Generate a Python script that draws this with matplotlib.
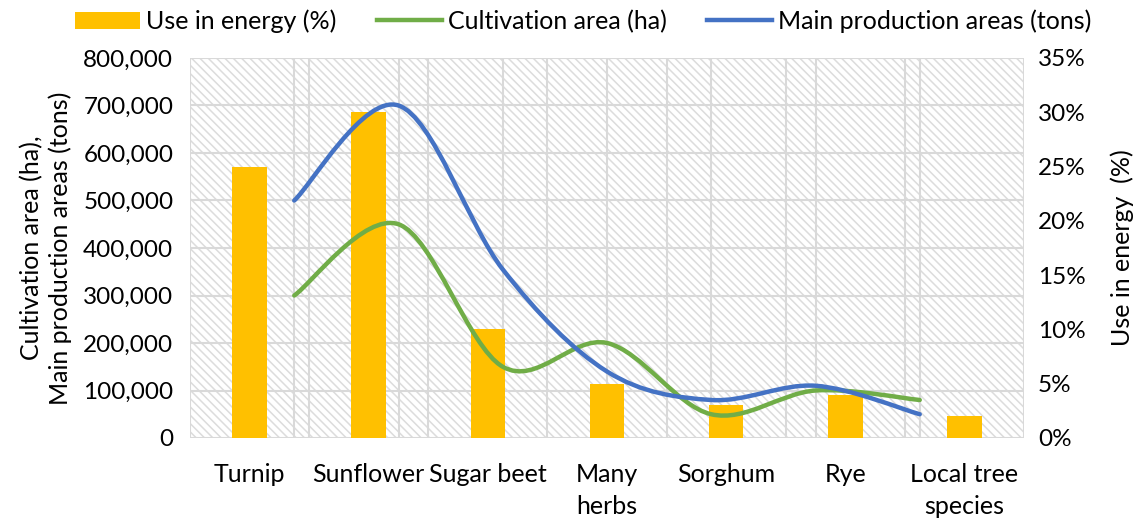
import numpy as np
import matplotlib
matplotlib.use('Agg')
import matplotlib.pyplot as plt
from matplotlib.path import Path
from matplotlib.patches import PathPatch, Rectangle, Patch
from matplotlib.lines import Line2D
from matplotlib.transforms import blended_transform_factory
from matplotlib.ticker import FuncFormatter

plt.rcParams['font.family'] = ['Lato', 'DejaVu Sans']
plt.rcParams['hatch.linewidth'] = 1.1
plt.rcParams['hatch.color'] = '#dcdcdc'

categories = ['Turnip', 'Sunflower', 'Sugar beet', 'Many\nherbs', 'Sorghum', 'Rye', 'Local tree\nspecies']
use_energy = [25, 30, 10, 5, 3, 4, 2]
cultivation = [300000, 450000, 150000, 200000, 50000, 100000, 80000]
production = [500000, 700000, 355000, 140000, 80000, 110000, 50000]

BAR_C = '#FFC000'
GREEN = '#70AD47'
BLUE = '#4472C4'
GRID = '#d9d9d9'
FS = 18
TFS = 17.5


def smooth_path(xs, ys):
    # excel style smoothed line: cubic bezier through each point
    pts = np.column_stack([xs, ys]).astype(float)
    n = len(pts)
    verts = [pts[0]]
    codes = [Path.MOVETO]
    for i in range(n - 1):
        p0 = pts[max(i - 1, 0)]
        p1 = pts[i]
        p2 = pts[i + 1]
        p3 = pts[min(i + 2, n - 1)]
        verts += [p1 + (p2 - p0) / 6, p2 - (p3 - p1) / 6, p2]
        codes += [Path.CURVE4] * 3
    return Path(verts, codes)


fig = plt.figure(figsize=(11.37, 5.19), dpi=100)
rect = [190 / 1137, 1 - 438 / 519, (1024 - 190) / 1137, (438 - 58) / 519]

# bars + background on the bottom axes (right y axis)
axb = fig.add_axes(rect)
axb.set_xlim(-0.5, len(categories) - 0.5)
axb.set_ylim(0, 35)
axb.add_patch(Rectangle((0, 0), 1, 1, transform=axb.transAxes, facecolor='white',
                        hatch='\\\\\\\\', edgecolor='#dcdcdc', lw=0, zorder=0))
x = np.arange(len(categories))
axb.bar(x, use_energy, width=0.29, color=BAR_C, zorder=3)
axb.set_xticks(x)
axb.set_xticklabels(categories, fontsize=FS, linespacing=1.45)
axb.set_yticks(np.arange(0, 36, 5))
axb.yaxis.set_major_formatter(FuncFormatter(lambda v, p: f'{v:.0f}%'))
axb.yaxis.tick_right()
axb.yaxis.set_label_position('right')
axb.set_ylabel('Use in energy  (%)', fontsize=FS, labelpad=18)
axb.tick_params(length=0, labelsize=TFS)
axb.tick_params(axis='x', pad=18, labelsize=FS)
axb.tick_params(axis='y', pad=10)
for s in axb.spines.values():
    s.set_visible(False)

# lines on a top axes with its own x scale (left y axis)
ax = fig.add_axes(rect, frameon=False)
ax.patch.set_visible(False)
ax.set_xlim(-1, len(cultivation))
ax.set_ylim(0, 800000)
ax.set_yticks(np.arange(0, 800001, 100000))
ax.yaxis.set_major_formatter(FuncFormatter(lambda v, p: f'{v:,.0f}'))
ax.set_xticks([])
ax.tick_params(length=0, labelsize=TFS, pad=12)
ax.set_ylabel('Cultivation area (ha),\nMain production areas (tons)', fontsize=FS, labelpad=8,
              linespacing=1.25)

# gridlines, drawn behind the bars
tr_h = blended_transform_factory(axb.transAxes, ax.transData)
axb.hlines(ax.get_yticks(), 0, 1, transform=tr_h, color=GRID, lw=1.5, zorder=1)
axb.vlines(np.arange(len(categories) + 1) - 0.5, 0, 35, color=GRID, lw=1.5, zorder=1)
tr_v = blended_transform_factory(ax.transData, axb.transAxes)
axb.vlines(np.arange(len(cultivation)), 0, 1, transform=tr_v, color=GRID, lw=1.5, zorder=1)

lx = np.arange(len(cultivation))
ax.add_patch(PathPatch(smooth_path(lx, cultivation), fill=False, edgecolor=GREEN, lw=3.2,
                       capstyle='round', zorder=4))
ax.add_patch(PathPatch(smooth_path(lx, production), fill=False, edgecolor=BLUE, lw=3.2,
                       capstyle='round', zorder=5))

handles = [Patch(facecolor=BAR_C, edgecolor='none'),
           Line2D([], [], color=GREEN, lw=3.2),
           Line2D([], [], color=BLUE, lw=3.2)]
labels = ['Use in energy (%)', 'Cultivation area (ha)', 'Main production areas (tons)']
fig.legend(handles, labels, loc='upper center', bbox_to_anchor=(0.513, 1.025), ncol=3,
           frameon=False, fontsize=FS, handlelength=2.6, handletextpad=0.25, columnspacing=1.6)

fig.savefig('out.png', dpi=100)
